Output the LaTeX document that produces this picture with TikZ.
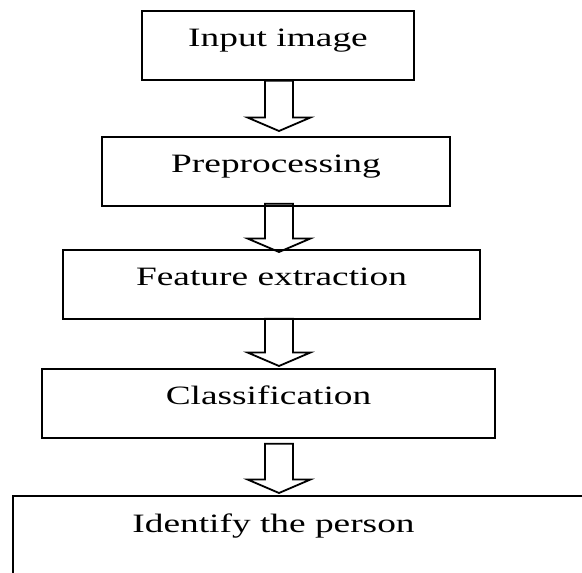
\documentclass[tikz,border=0pt]{standalone}
\usepackage{fontspec}
\setmainfont{Liberation Serif}
\usepackage{graphicx}
\usetikzlibrary{calc}

\newcommand{\wide}[1]{\scalebox{1.41}[1]{#1}}

\begin{document}
\begin{tikzpicture}[x=1pt,y=-1pt,
  stage/.style={draw, line width=1.8pt, anchor=north, inner xsep=0pt, inner ysep=0pt,
    text height=36pt, text depth=33pt, font=\fontsize{26.5}{30}\selectfont},
  blockarrow/.style={draw, line width=1.8pt, line join=miter}]
  \useasboundingbox (0,0) rectangle (582,573);
  \clip (0,0) rectangle (582,573);

  \node[stage, minimum width=272pt] (inp) at (278,10) {\wide{Input image}};
  \node[stage, minimum width=348pt] (pre) at (276,136) {\wide{Preprocessing}};
  \node[stage, minimum width=417pt] (feat) at (271.5,249) {\wide{Feature extraction}};
  \node[stage, minimum width=453pt] (cls) at (268.5,368) {\wide{Classification}};
  \node[stage, draw=none] (ident) at (273.5,496) {\wide{Identify the person}};
  \draw[line width=1.8pt] (13,580) |- (600,496);

  % block arrows between the stages
  \coordinate (ax) at (279,0);
  \foreach \a/\b/\s/\e in {inp/pre/0/5, pre/feat/3/-3, feat/cls/1/2, cls/ident/-5/3}
    \draw[blockarrow] let \p1=(ax |- \a.south), \p2=(ax |- \b.north) in
      (\x1-14pt,\y1+\s pt) -- (\x1-14pt,\y2+\e pt+13.5pt) -- (\x1-31.5pt,\y2+\e pt+13.5pt)
      -- (\x1,\y2+\e pt) -- (\x1+31.5pt,\y2+\e pt+13.5pt) -- (\x1+14pt,\y2+\e pt+13.5pt)
      -- (\x1+14pt,\y1+\s pt) -- cycle;
\end{tikzpicture}
\end{document}
